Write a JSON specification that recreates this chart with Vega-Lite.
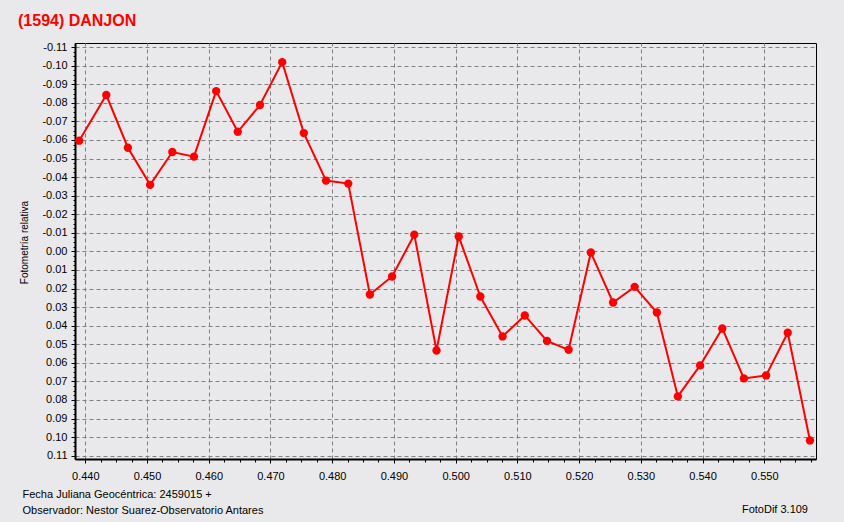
{
  "$schema": "https://vega.github.io/schema/vega-lite/v6.json",
  "width": 741,
  "height": 416,
  "autosize": {"type": "none"},
  "padding": {"left": 75, "top": 43, "right": 28, "bottom": 63},
  "background": "#e9e9eb",
  "title": {
    "text": "(1594) DANJON",
    "anchor": "start",
    "frame": "group",
    "dx": -57,
    "offset": 12,
    "font": "Liberation Sans",
    "fontSize": 16,
    "fontWeight": "bold",
    "color": "#ff0000"
  },
  "config": {
    "view": {"stroke": "#000000", "strokeWidth": 1, "fill": "#e9e9eb"},
    "axis": {
      "labelFont": "Liberation Sans",
      "labelFontSize": 11,
      "labelColor": "#000000",
      "titleFont": "Liberation Sans",
      "titleFontSize": 11,
      "titleFontWeight": "normal",
      "titleColor": "#000000",
      "domainColor": "#000000",
      "domainWidth": 2,
      "tickColor": "#000000",
      "tickWidth": 1,
      "gridColor": "#808080",
      "gridDash": [4, 3],
      "gridWidth": 1,
      "labelOverlap": false,
      "labelFlush": false
    }
  },
  "resolve": {"axis": {"x": "independent", "y": "independent"}},
  "layer": [
    {
      "data": {
        "values": [
          {"jd": 0.4390, "mag": -0.0596},
          {"jd": 0.4434, "mag": -0.0842},
          {"jd": 0.4469, "mag": -0.0558},
          {"jd": 0.4505, "mag": -0.0358},
          {"jd": 0.4541, "mag": -0.0535},
          {"jd": 0.4576, "mag": -0.0510},
          {"jd": 0.4612, "mag": -0.0863},
          {"jd": 0.4647, "mag": -0.0644},
          {"jd": 0.4683, "mag": -0.0788},
          {"jd": 0.4719, "mag": -0.1019},
          {"jd": 0.4754, "mag": -0.0637},
          {"jd": 0.4790, "mag": -0.0381},
          {"jd": 0.4826, "mag": -0.0365},
          {"jd": 0.4861, "mag": 0.0232},
          {"jd": 0.4897, "mag": 0.0135},
          {"jd": 0.4933, "mag": -0.0090},
          {"jd": 0.4969, "mag": 0.0534},
          {"jd": 0.5005, "mag": -0.0080},
          {"jd": 0.5040, "mag": 0.0243},
          {"jd": 0.5076, "mag": 0.0458},
          {"jd": 0.5112, "mag": 0.0345},
          {"jd": 0.5148, "mag": 0.0482},
          {"jd": 0.5183, "mag": 0.0530},
          {"jd": 0.5219, "mag": 0.0006},
          {"jd": 0.5255, "mag": 0.0275},
          {"jd": 0.5290, "mag": 0.0191},
          {"jd": 0.5326, "mag": 0.0329},
          {"jd": 0.5360, "mag": 0.0781},
          {"jd": 0.5396, "mag": 0.0614},
          {"jd": 0.5432, "mag": 0.0415},
          {"jd": 0.5467, "mag": 0.0684},
          {"jd": 0.5503, "mag": 0.0668},
          {"jd": 0.5538, "mag": 0.0438},
          {"jd": 0.5574, "mag": 0.1018}
        ]
      },
      "encoding": {
        "x": {
          "field": "jd",
          "type": "quantitative",
          "scale": {"domain": [0.43833, 0.55838], "nice": false, "zero": false},
          "axis": {
            "orient": "bottom",
            "values": [0.44,0.4425,0.445,0.4475,0.45,0.4525,0.455,0.4575,0.46,0.4625,0.465,0.4675,0.47,0.4725,0.475,0.4775,0.48,0.4825,0.485,0.4875,0.49,0.4925,0.495,0.4975,0.5,0.5025,0.505,0.5075,0.51,0.5125,0.515,0.5175,0.52,0.5225,0.525,0.5275,0.53,0.5325,0.535,0.5375,0.54,0.5425,0.545,0.5475,0.55,0.5525,0.555,0.5575],
            "labelExpr": "abs(datum.value*100-round(datum.value*100))<0.001 ? format(datum.value, '.3f') : ''",
            "tickSize": {"condition": {"test": "abs(datum.value*100-round(datum.value*100))<0.001", "value": 4}, "value": 3},
            "gridOpacity": {"condition": {"test": "abs(datum.value*100-round(datum.value*100))<0.001", "value": 1}, "value": 0},
            "grid": true,
            "labelPadding": 7,
            "title": ["Fecha Juliana Geocéntrica: 2459015 +", "Observador: Nestor Suarez-Observatorio Antares"],
            "titleAnchor": "start",
            "titleAlign": "left",
            "titleBaseline": "alphabetic",
            "titleX": -53,
            "titleY": 38,
            "titleLineHeight": 16
          }
        },
        "y": {
          "field": "mag",
          "type": "quantitative",
          "scale": {"domain": [-0.1122, 0.1118], "nice": false, "zero": false, "reverse": true},
          "axis": {
            "orient": "left",
            "values": [-0.11,-0.1075,-0.105,-0.1025,-0.1,-0.0975,-0.095,-0.0925,-0.09,-0.0875,-0.085,-0.0825,-0.08,-0.0775,-0.075,-0.0725,-0.07,-0.0675,-0.065,-0.0625,-0.06,-0.0575,-0.055,-0.0525,-0.05,-0.0475,-0.045,-0.0425,-0.04,-0.0375,-0.035,-0.0325,-0.03,-0.0275,-0.025,-0.0225,-0.02,-0.0175,-0.015,-0.0125,-0.01,-0.0075,-0.005,-0.0025,0,0.0025,0.005,0.0075,0.01,0.0125,0.015,0.0175,0.02,0.0225,0.025,0.0275,0.03,0.0325,0.035,0.0375,0.04,0.0425,0.045,0.0475,0.05,0.0525,0.055,0.0575,0.06,0.0625,0.065,0.0675,0.07,0.0725,0.075,0.0775,0.08,0.0825,0.085,0.0875,0.09,0.0925,0.095,0.0975,0.1,0.1025,0.105,0.1075,0.11],
            "labelExpr": "abs(datum.value*100-round(datum.value*100))<0.001 ? replace(format(datum.value, '.2f'), '\u2212', '-') : ''",
            "tickSize": {"condition": {"test": "abs(datum.value*100-round(datum.value*100))<0.001", "value": 4}, "value": 2},
            "gridOpacity": {"condition": {"test": "abs(datum.value*100-round(datum.value*100))<0.001", "value": 1}, "value": 0},
            "grid": true,
            "labelPadding": 4,
            "title": "Fotometría relativa",
            "titleFontSize": 10,
            "titleAngle": -90,
            "titleBaseline": "alphabetic",
            "titleAlign": "center",
            "titleX": -48,
            "titleY": 199
          }
        }
      },
      "layer": [
        {"mark": {"type": "line", "color": "#ff0000", "strokeWidth": 2}},
        {"mark": {"type": "point", "filled": true, "color": "#ff0000", "size": 70, "opacity": 1}}
      ]
    },
    {
      "data": {"values": [{"label": "FotoDif 3.109"}]},
      "mark": {"type": "text", "font": "Liberation Sans", "fontSize": 11, "color": "#000000", "align": "right", "baseline": "alphabetic", "dx": -8, "dy": 54},
      "encoding": {
        "x": {"datum": 0.55838, "type": "quantitative", "axis": null},
        "y": {"datum": 0.1118, "type": "quantitative", "axis": null},
        "text": {"field": "label", "type": "nominal"}
      }
    }
  ]
}
